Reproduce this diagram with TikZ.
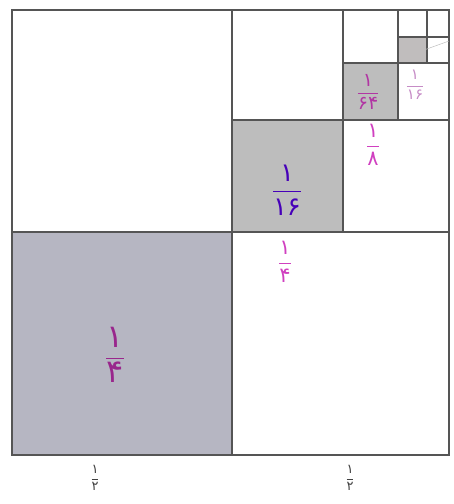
\documentclass[tikz,border=0pt]{standalone}
\usepackage{fontspec}
\newfontfamily\fafont[Script=Arabic]{DejaVu Sans}
\newcommand{\kasr}[2]{$\dfrac{\mbox{\fafont #1}}{\mbox{\fafont #2}}$}
\usepackage{amsmath}
\definecolor{ink}{HTML}{555555}
\definecolor{bigfill}{HTML}{B6B6C2}
\definecolor{greyfill}{HTML}{BDBDBD}
\definecolor{pen}{HTML}{D040C0}

\begin{document}
\begin{tikzpicture}[
            x=1pt, y=-1pt,
            edge/.style={draw=ink, line width=1.3pt},
            lab/.style={inner sep=0pt, text=pen},
            side/.style={inner sep=0pt, text=black!75, font=\fontsize{13}{14}\selectfont}
        ]
            \useasboundingbox (0,0) rectangle (454,504);
            % shaded squares
            \fill[bigfill] (12,232) rectangle (232,455);
            \fill[greyfill] (232,120) rectangle (343,232);
            \fill[greyfill] (343,63) rectangle (398,120);
            \fill[greyfill!95!pink] (398,37) rectangle (427,63);
            % dividing lines
            \draw[edge] (12,10) rectangle (449,455);
            \draw[edge] (232,10) -- (232,455);
            \draw[edge] (12,232) -- (449,232);
            \draw[edge] (343,10) -- (343,232);
            \draw[edge] (232,120) -- (449,120);
            \draw[edge] (398,10) -- (398,120);
            \draw[edge] (343,63) -- (449,63);
            \draw[edge] (427,10) -- (427,63);
            \draw[edge] (398,37) -- (449,37);
            \draw[black!25, line width=0.5pt] (424,50) -- (449,41);
            % labels
            \node[lab, text=violet!80!pink, font=\fontsize{32}{34}\selectfont] (big) at (115,355) {\kasr{۱}{۴}};
            \node[lab, text=blue!45!violet, font=\fontsize{26}{28}\selectfont] (mid) at (287,190) {\kasr{۱}{۱۶}};
            \node[lab, font=\fontsize{21}{23}\selectfont] (midside) at (285,262) {\kasr{۱}{۴}};
            \node[lab, text=pen!85!black, font=\fontsize{19}{21}\selectfont] (small) at (368,92) {\kasr{۱}{۶۴}};
            \node[lab, font=\fontsize{21}{23}\selectfont] (smallside) at (373,145) {\kasr{۱}{۸}};
            \node[lab, text=violet!45, font=\fontsize{15}{17}\selectfont] (tinyside) at (415,85) {\kasr{۱}{۱۶}};
            \node[side] (halfa) at (95,478) {\kasr{۱}{۲}};
            \node[side] (halfb) at (350,478) {\kasr{۱}{۲}};
        \end{tikzpicture}
\end{document}
